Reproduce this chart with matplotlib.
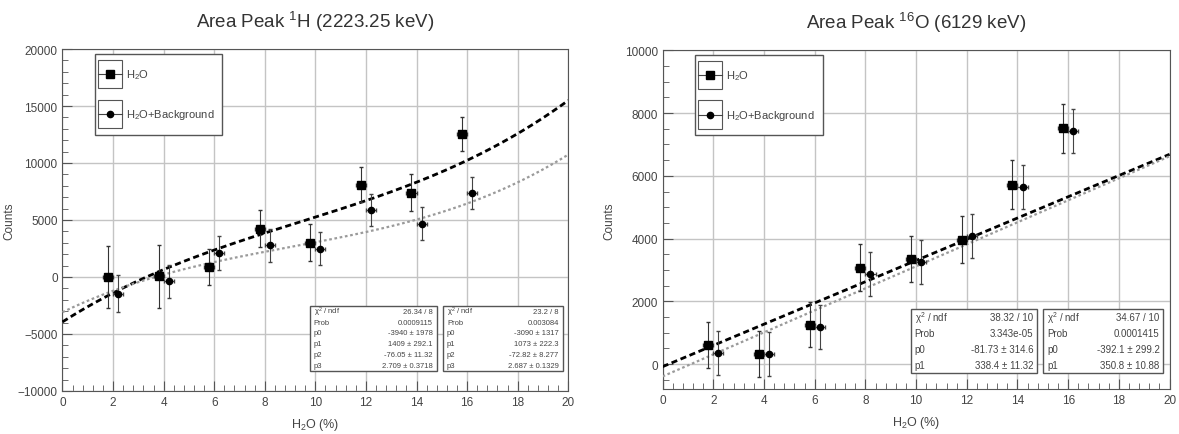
import numpy as np
import matplotlib.pyplot as plt
from matplotlib.ticker import MultipleLocator
from matplotlib.patches import Rectangle

plt.rcParams['font.family'] = ['Liberation Sans', 'DejaVu Sans']
plt.rcParams['mathtext.default'] = 'regular'

# ---- data: 1H peak (left) ----
h_x_sq = [1.8, 3.8, 5.8, 7.8, 9.8, 11.8, 13.8, 15.8]
h_y_sq = [0, 50, 880, 4240, 3010, 8100, 7400, 12570]
h_e_sq = [2750, 2750, 1580, 1600, 1600, 1540, 1600, 1500]
h_x_ci = [2.2, 4.2, 6.2, 8.2, 10.2, 12.2, 14.2, 16.2]
h_y_ci = [-1465, -390, 2100, 2770, 2480, 5900, 4680, 7370]
h_e_ci = [1600, 1450, 1460, 1430, 1430, 1390, 1420, 1390]
h_fit_sq = [-3940, 1409, -76.05, 2.709]      # p0..p3
h_fit_ci = [-3090, 1073, -72.82, 2.687]
h_stat_sq = [(r'$\chi^2$ / ndf', '26.34 / 8'), ('Prob', '0.0009115'),
             ('p0', '-3940 ± 1978'), ('p1', '1409 ± 292.1'),
             ('p2', '-76.05 ± 11.32'), ('p3', '2.709 ± 0.3718')]
h_stat_ci = [(r'$\chi^2$ / ndf', '23.2 / 8'), ('Prob', '0.003084'),
             ('p0', '-3090 ± 1317'), ('p1', '1073 ± 222.3'),
             ('p2', '-72.82 ± 8.277'), ('p3', '2.687 ± 0.1329')]

# ---- data: 16O peak (right) ----
o_x_sq = [1.8, 3.8, 5.8, 7.8, 9.8, 11.8, 13.8, 15.8]
o_y_sq = [606, 320, 1250, 3070, 3350, 3970, 5720, 7520]
o_e_sq = [720, 740, 720, 750, 740, 740, 780, 780]
o_x_ci = [2.2, 4.2, 6.2, 8.2, 10.2, 12.2, 14.2, 16.2]
o_y_ci = [350, 320, 1170, 2870, 3260, 4090, 5640, 7430]
o_e_ci = [700, 700, 700, 700, 700, 700, 700, 700]
o_fit_sq = [-81.73, 338.4]
o_fit_ci = [-392.1, 350.8]
o_stat_sq = [(r'$\chi^2$ / ndf', '38.32 / 10'), ('Prob', '3.343e-05'),
             ('p0', '-81.73 ± 314.6'), ('p1', '338.4 ± 11.32')]
o_stat_ci = [(r'$\chi^2$ / ndf', '34.67 / 10'), ('Prob', '0.0001415'),
             ('p0', '-392.1 ± 299.2'), ('p1', '350.8 ± 10.88')]

fig = plt.figure(figsize=(11.79, 4.35), dpi=100)
axL = fig.add_axes([0.053, 0.099, 0.429, 0.786])
axR = fig.add_axes([0.562, 0.103, 0.430, 0.779])

tc = '#444444'


def stat_box(ax, x0, x1, y0, y1, rows, fs):
    ax.add_patch(Rectangle((x0, y0), x1 - x0, y1 - y0, transform=ax.transAxes,
                           facecolor='white', edgecolor='#555555', lw=1, zorder=5))
    n = len(rows)
    h = (y1 - y0) / n
    for i, (k, v) in enumerate(rows):
        yy = y1 - h * (i + 0.5)
        ax.text(x0 + 0.008, yy, k, transform=ax.transAxes, fontsize=fs,
                va='center', ha='left', color=tc, zorder=6)
        ax.text(x1 - 0.008, yy, v, transform=ax.transAxes, fontsize=fs,
                va='center', ha='right', color=tc, zorder=6)


def legend_box(ax):
    ax.add_patch(Rectangle((0.064, 0.749), 0.252, 0.236, transform=ax.transAxes,
                           facecolor='white', edgecolor='#555555', lw=1, zorder=5))
    for yc, mk, ms, lab in [(0.927, 's', 6, 'H$_2$O'),
                            (0.810, 'o', 4.5, 'H$_2$O+Background')]:
        ax.add_patch(Rectangle((0.0708, yc - 0.042), 0.046, 0.084, transform=ax.transAxes,
                               facecolor='none', edgecolor='#555555', lw=0.8, zorder=6))
        ax.plot([0.0708, 0.1168], [yc, yc], color='#444444', lw=0.8,
                transform=ax.transAxes, zorder=6)
        ax.plot([0.094], [yc], marker=mk, ms=ms, color='black',
                transform=ax.transAxes, zorder=7)
        ax.text(0.1255, yc, lab, transform=ax.transAxes, fontsize=8,
                va='center', ha='left', color=tc, zorder=7)


def setup(ax, ymin, ymax, ymaj, ymin_step, title):
    ax.set_xlim(0, 20)
    ax.set_ylim(ymin, ymax)
    ax.xaxis.set_major_locator(MultipleLocator(2))
    ax.xaxis.set_minor_locator(MultipleLocator(0.4))
    ax.yaxis.set_major_locator(MultipleLocator(ymaj))
    ax.yaxis.set_minor_locator(MultipleLocator(ymin_step))
    ax.tick_params(which='both', direction='in', labelsize=8.5, colors='#555555',
                   labelcolor=tc, top=False, right=False)
    ax.tick_params(which='major', length=7)
    ax.tick_params(which='minor', length=4)
    ax.grid(True, which='major', color='#c4c4c4', lw=1)
    ax.set_axisbelow(True)
    for s in ax.spines.values():
        s.set_color('#555555')
    ax.set_xlabel('H$_2$O (%)', fontsize=9, color=tc, labelpad=6)
    ax.set_ylabel('Counts', fontsize=8.5, color=tc)
    ax.yaxis.set_label_coords(-0.094, 0.5)
    ax.set_title(title, fontsize=13.5, color='#333333', pad=16)


def draw(ax, xs, ys, es, xc, yc, ec, psq, pci):
    xx = np.linspace(0, 20, 300)
    ax.plot(xx, np.polyval(psq[::-1], xx), color='black', lw=2, ls=(0, (2.2, 1.3)), zorder=3)
    ax.plot(xx, np.polyval(pci[::-1], xx), color='#9a9a9a', lw=1.6, ls=(0, (1.2, 1.2)), zorder=3)
    ax.errorbar(xs, ys, yerr=es, xerr=0.2, fmt='s', ms=6, color='black',
                ecolor='#333333', elinewidth=0.8, capsize=1.5, zorder=4)
    ax.errorbar(xc, yc, yerr=ec, xerr=0.2, fmt='o', ms=4.5, color='black',
                ecolor='#444444', elinewidth=0.8, capsize=1.5, zorder=4)


setup(axL, -10000, 20000, 5000, 1000, 'Area Peak $^{1}$H (2223.25 keV)')
draw(axL, h_x_sq, h_y_sq, h_e_sq, h_x_ci, h_y_ci, h_e_ci, h_fit_sq, h_fit_ci)
legend_box(axL)
stat_box(axL, 0.489, 0.740, 0.059, 0.249, h_stat_sq, 5.5)
stat_box(axL, 0.752, 0.989, 0.059, 0.249, h_stat_ci, 5.5)

setup(axR, -800, 10000, 2000, 500, 'Area Peak $^{16}$O (6129 keV)')
draw(axR, o_x_sq, o_y_sq, o_e_sq, o_x_ci, o_y_ci, o_e_ci, o_fit_sq, o_fit_ci)
legend_box(axR)
stat_box(axR, 0.489, 0.739, 0.047, 0.236, o_stat_sq, 7)
stat_box(axR, 0.751, 0.988, 0.047, 0.236, o_stat_ci, 7)

fig.savefig('out.png', dpi=100)
